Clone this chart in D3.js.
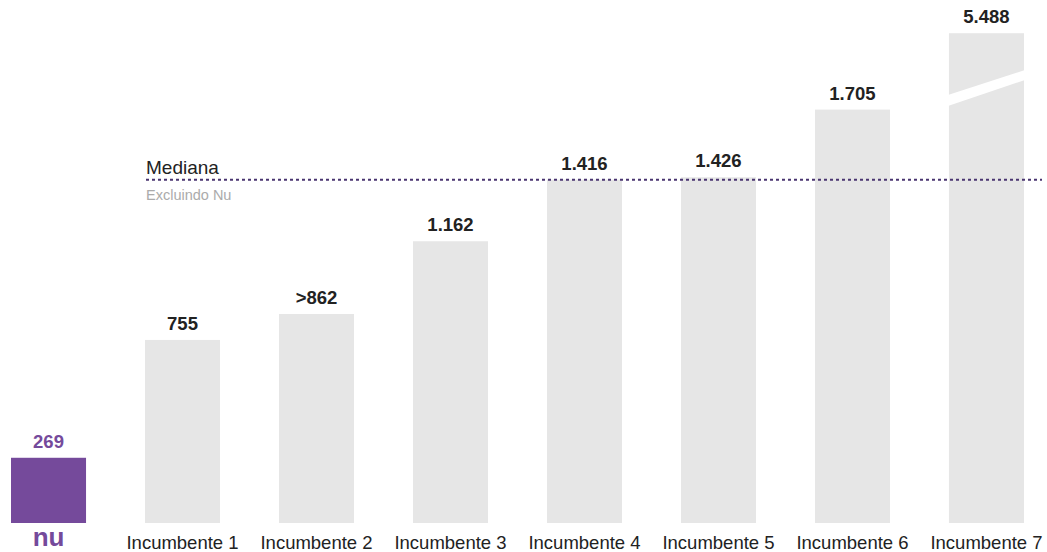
<!DOCTYPE html>
<html>
<head>
<meta charset="utf-8">
<script src="https://cdn.jsdelivr.net/npm/d3@7"></script>
<style>
  html, body { margin: 0; padding: 0; background: #fff; }
  svg { display: block; font-family: "Liberation Sans", Arial, sans-serif; }
</style>
</head>
<body>
<svg id="chart" width="1047" height="552"></svg>
<script>
// ---- data ----
const categories = ["Nu", "Incumbente 1", "Incumbente 2", "Incumbente 3", "Incumbente 4", "Incumbente 5", "Incumbente 6", "Incumbente 7"];
const values = [269, 755, 862, 1162, 1416, 1426, 1705, 5488];
const valueLabels = ["269", "755", ">862", "1.162", "1.416", "1.426", "1.705", "5.488"];
const medianValue = 1416;           // median excluding Nu
const axisCap = 2020;               // bars above this are drawn broken
const medianLabel = "Mediana";
const medianSubLabel = "Excluindo Nu";

// ---- layout ----
const svg = d3.select("#chart");
const baseY = 523;
const x = d3.scaleBand().domain(categories).range([11, 1024]).paddingInner(0.44).paddingOuter(0);
const y = d3.scaleLinear().domain([0, 2157]).range([baseY, 0]);

const purple = "#754a9b";
const grey = "#e6e6e6";

const shown = v => Math.min(v, axisCap);

// bars
svg.selectAll("rect.bar").data(categories).join("rect")
  .attr("class", "bar")
  .attr("x", d => x(d))
  .attr("width", x.bandwidth())
  .attr("y", (d, i) => y(shown(values[i])))
  .attr("height", (d, i) => baseY - y(shown(values[i])))
  .attr("fill", (d, i) => i === 0 ? purple : grey);

// break mark on capped bars
categories.forEach((c, i) => {
  if (values[i] > axisCap) {
    const x0 = x(c), x1 = x(c) + x.bandwidth();
    svg.append("polygon")
      .attr("points", [[x0 - 1, 95], [x1 + 1, 70], [x1 + 1, 80], [x0 - 1, 106]].map(p => p.join(",")).join(" "))
      .attr("fill", "#fff");
  }
});

// median line
const yMed = y(medianValue);
svg.append("line")
  .attr("x1", 146).attr("x2", 1042)
  .attr("y1", yMed).attr("y2", yMed)
  .attr("stroke", "#4a3570").attr("stroke-width", 2)
  .attr("stroke-dasharray", "3,3");
svg.append("text").attr("x", 146).attr("y", yMed - 6)
  .attr("font-size", 19).attr("fill", "#222").text(medianLabel);
svg.append("text").attr("x", 146).attr("y", yMed + 20)
  .attr("font-size", 14.5).attr("fill", "#ababab").text(medianSubLabel);

// value labels
svg.selectAll("text.val").data(categories).join("text")
  .attr("class", "val")
  .attr("x", d => x(d) + x.bandwidth() / 2)
  .attr("y", (d, i) => y(shown(values[i])) - 10)
  .attr("text-anchor", "middle")
  .attr("font-size", 18.5).attr("font-weight", "bold")
  .attr("fill", (d, i) => i === 0 ? purple : "#222")
  .text((d, i) => valueLabels[i]);

// category labels
svg.selectAll("text.cat").data(categories.slice(1)).join("text")
  .attr("class", "cat")
  .attr("x", d => x(d) + x.bandwidth() / 2)
  .attr("y", 549)
  .attr("text-anchor", "middle")
  .attr("font-size", 18.5).attr("fill", "#222")
  .text(d => d);

// Nu logo-like label
svg.append("text")
  .attr("x", x("Nu") + x.bandwidth() / 2)
  .attr("y", 546)
  .attr("text-anchor", "middle")
  .attr("font-size", 26).attr("font-weight", "bold")
  .attr("fill", purple)
  .text("nu");
</script>
</body>
</html>
